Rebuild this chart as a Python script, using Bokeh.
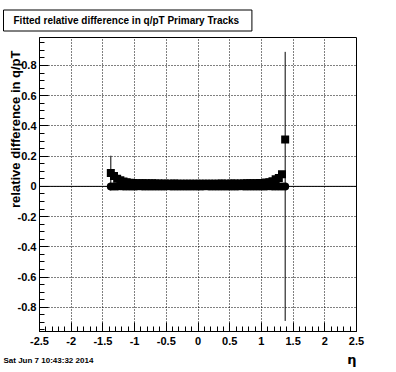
from bokeh.plotting import figure
from bokeh.models import FixedTicker, Span, ColumnDataSource, Title
from bokeh.embed import file_html
from bokeh.resources import INLINE

# ---- data -------------------------------------------------------------
eta = [-1.375, -1.325, -1.275, -1.225, -1.175, -1.125, -1.075, -1.025, -0.975, -0.925,
       -0.875, -0.825, -0.775, -0.725, -0.675, -0.625, -0.575, -0.525, -0.475, -0.425,
       -0.375, -0.325, -0.275, -0.225, -0.175, -0.125, -0.075, -0.025, 0.025, 0.075,
       0.125, 0.175, 0.225, 0.275, 0.325, 0.375, 0.425, 0.475, 0.525, 0.575,
       0.625, 0.675, 0.725, 0.775, 0.825, 0.875, 0.925, 0.975, 1.025, 1.075,
       1.125, 1.175, 1.225, 1.275, 1.325, 1.375]

square_vals = [0.088, 0.068, 0.050, 0.040, 0.032, 0.027, 0.024, 0.022, 0.021, 0.021,
               0.020, 0.020, 0.019, 0.020, 0.019, 0.019, 0.018, 0.019, 0.018, 0.018,
               0.019, 0.018, 0.018, 0.017, 0.018, 0.018, 0.017, 0.018, 0.018, 0.017,
               0.018, 0.018, 0.017, 0.018, 0.018, 0.019, 0.018, 0.018, 0.019, 0.019,
               0.018, 0.019, 0.019, 0.020, 0.020, 0.021, 0.021, 0.022, 0.023, 0.025,
               0.028, 0.034, 0.048, 0.055, 0.080, 0.310]
square_errs = [0.115, 0.010, 0.006, 0.005, 0.004, 0.004, 0.004, 0.004, 0.004, 0.004,
               0.004, 0.004, 0.004, 0.004, 0.004, 0.004, 0.004, 0.004, 0.004, 0.004,
               0.004, 0.004, 0.004, 0.004, 0.004, 0.004, 0.004, 0.004, 0.004, 0.004,
               0.004, 0.004, 0.004, 0.004, 0.004, 0.004, 0.004, 0.004, 0.004, 0.004,
               0.004, 0.004, 0.004, 0.004, 0.004, 0.004, 0.004, 0.004, 0.004, 0.004,
               0.004, 0.005, 0.006, 0.008, 0.010, 0.020]

circle_vals = [0.000, -0.001, 0.000, 0.001, 0.000, 0.000, -0.001, 0.000, 0.000, 0.001,
               0.000, 0.000, 0.000, -0.001, 0.000, 0.000, 0.000, 0.000, 0.001, 0.000,
               0.000, 0.000, -0.001, 0.000, 0.000, 0.000, 0.000, 0.000, 0.000, 0.000,
               0.001, 0.000, 0.000, 0.000, 0.000, -0.001, 0.000, 0.000, 0.000, 0.000,
               0.000, 0.001, 0.000, 0.000, 0.000, 0.000, -0.001, 0.000, 0.000, 0.000,
               0.001, 0.000, 0.000, 0.000, 0.000, 0.000]
circle_errs = [0.010, 0.004, 0.003, 0.003, 0.003, 0.003, 0.003, 0.003, 0.003, 0.003,
               0.003, 0.003, 0.003, 0.003, 0.003, 0.003, 0.003, 0.003, 0.003, 0.003,
               0.003, 0.003, 0.003, 0.003, 0.003, 0.003, 0.003, 0.003, 0.003, 0.003,
               0.003, 0.003, 0.003, 0.003, 0.003, 0.003, 0.003, 0.003, 0.003, 0.003,
               0.003, 0.003, 0.003, 0.003, 0.003, 0.003, 0.003, 0.003, 0.003, 0.003,
               0.003, 0.003, 0.004, 0.005, 0.008, 0.890]

x_ticks = [-2.5, -2.0, -1.5, -1.0, -0.5, 0.0, 0.5, 1.0, 1.5, 2.0, 2.5]
x_tick_labels = ["-2.5", "-2", "-1.5", "-1", "-0.5", "0", "0.5", "1", "1.5", "2", "2.5"]
x_minor = [-2.4, -2.3, -2.2, -2.1, -1.9, -1.8, -1.7, -1.6, -1.4, -1.3, -1.2, -1.1,
           -0.9, -0.8, -0.7, -0.6, -0.4, -0.3, -0.2, -0.1, 0.1, 0.2, 0.3, 0.4,
           0.6, 0.7, 0.8, 0.9, 1.1, 1.2, 1.3, 1.4, 1.6, 1.7, 1.8, 1.9, 2.1, 2.2, 2.3, 2.4]
y_ticks = [-0.8, -0.6, -0.4, -0.2, 0.0, 0.2, 0.4, 0.6, 0.8]
y_tick_labels = ["-0.8", "-0.6", "-0.4", "-0.2", "0", "0.2", "0.4", "0.6", "0.8"]
y_minor = [-0.95, -0.9, -0.85, -0.75, -0.7, -0.65, -0.55, -0.5, -0.45, -0.35, -0.3, -0.25,
           -0.15, -0.1, -0.05, 0.05, 0.1, 0.15, 0.25, 0.3, 0.35, 0.45, 0.5, 0.55,
           0.65, 0.7, 0.75, 0.85, 0.9, 0.95]

title_text = "Fitted relative difference in q/pT  Primary Tracks"
y_title = "relative difference in q/pT"
x_title = "\u03b7"
date_text = "Sat Jun  7 10:43:32 2014"

# ---- figure -------------------------------------------------------------
FONT = "Liberation Sans"
p = figure(width=396, height=372, x_range=(-2.5, 2.5), y_range=(-0.96, 0.985),
           output_backend="svg", toolbar_location=None,
           min_border_left=39, min_border_right=40, min_border_top=37, min_border_bottom=41)
p.outline_line_color = "black"
p.outline_line_width = 1
p.background_fill_color = "white"
p.border_fill_color = "white"

for ax, ticks, minor, labels in ((p.xaxis[0], x_ticks, x_minor, x_tick_labels),
                                 (p.yaxis[0], y_ticks, y_minor, y_tick_labels)):
    ax.ticker = FixedTicker(ticks=ticks, minor_ticks=minor)
    ax.major_label_overrides = {t: l for t, l in zip(ticks, labels)}
    ax.major_tick_in = 9
    ax.major_tick_out = 0
    ax.minor_tick_in = 5
    ax.minor_tick_out = 0
    ax.axis_line_color = "black"
    ax.major_tick_line_color = "black"
    ax.minor_tick_line_color = "black"
    ax.major_label_text_font = FONT
    ax.major_label_text_font_style = "bold"
    ax.major_label_text_font_size = "11px"
    ax.major_label_text_color = "black"
p.xaxis.major_label_standoff = 5
p.yaxis.major_label_standoff = 3

for g in (p.xgrid[0], p.ygrid[0]):
    g.grid_line_color = "black"
    g.grid_line_dash = "1 2"
    g.grid_line_width = 1

p.add_layout(Span(location=0, dimension="width", line_color="black", line_width=1))

sq = ColumnDataSource(dict(x=eta, y=square_vals,
                           lo=[v - e for v, e in zip(square_vals, square_errs)],
                           hi=[v + e for v, e in zip(square_vals, square_errs)]))
ci = ColumnDataSource(dict(x=eta, y=circle_vals,
                           lo=[v - e for v, e in zip(circle_vals, circle_errs)],
                           hi=[v + e for v, e in zip(circle_vals, circle_errs)]))

p.segment(x0="x", y0="lo", x1="x", y1="hi", source=sq, line_color="black", line_width=1)
p.scatter(x="x", y="y", source=sq, marker="square", size=8, fill_color="black",
          line_color="black", line_width=0)
p.segment(x0="x", y0="lo", x1="x", y1="hi", source=ci, line_color="black", line_width=1)
p.scatter(x="x", y="y", source=ci, marker="circle", size=8, fill_color="black",
          line_color="black", line_width=0)

# ---- texts (side-panel titles) ------------------------------------------------
p.title = Title(text=title_text, align="left", offset=-36, standoff=13,
                text_font=FONT, text_font_style="bold", text_font_size="10px",
                text_color="black", border_line_color="black", border_line_width=1,
                background_fill_color="white", padding=(10, 5))

ytitle = Title(text=y_title, align="right", offset=13, standoff=-16,
               text_font=FONT, text_font_style="bold", text_font_size="13px",
               text_color="black")
p.add_layout(ytitle, "left")

eta_title = Title(text=x_title, align="right", standoff=5,
                  text_font="DejaVu Sans", text_font_size="13px", text_color="black")
p.add_layout(eta_title, "below")
date_title = Title(text=date_text, align="left", offset=-36, standoff=-28,
                   vertical_align="top",
                   text_font=FONT, text_font_style="bold", text_font_size="8px",
                   text_color="black")
p.add_layout(date_title, "below")

open("out.html", "w").write(file_html(p, INLINE))
